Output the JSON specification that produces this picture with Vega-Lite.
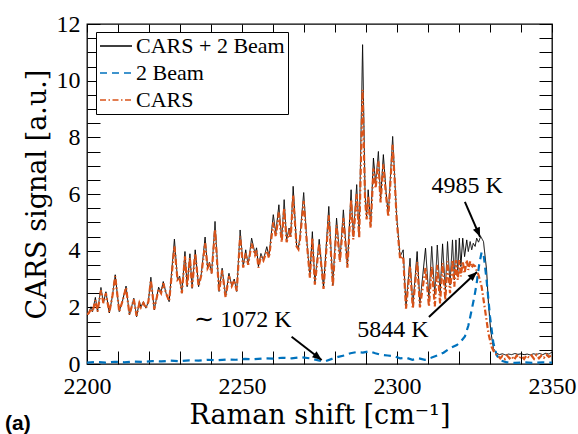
{
  "$schema": "https://vega.github.io/schema/vega-lite/v6.json",
  "width": 465,
  "height": 340,
  "autosize": {"type": "none"},
  "padding": {"left": 87, "top": 24, "right": 26, "bottom": 70},
  "background": "white",
  "title": {
    "text": "(a)",
    "orient": "bottom",
    "anchor": "start",
    "frame": "group",
    "dx": -82,
    "dy": -19,
    "font": "Liberation Sans",
    "fontWeight": "bold",
    "fontSize": 21,
    "color": "black"
  },
  "config": {
    "view": {"stroke": "black", "strokeWidth": 1.3},
    "axis": {
      "grid": false,
      "domain": false,
      "tickColor": "black",
      "tickWidth": 1,
      "labelFont": "Liberation Serif",
      "labelFontSize": 24,
      "labelColor": "black",
      "labelFlush": false,
      "labelOverlap": false,
      "titleFont": "DejaVu Serif",
      "titleFontWeight": "normal",
      "titleFontSize": 27,
      "titleColor": "black"
    },
    "legend": {
      "orient": "none",
      "legendX": 9,
      "legendY": 8,
      "title": null,
      "symbolType": "stroke",
      "symbolSize": 1024,
      "symbolStrokeWidth": 1.6,
      "labelFont": "Liberation Serif",
      "labelFontSize": 22,
      "labelColor": "black",
      "labelOffset": 3,
      "strokeColor": "black",
      "fillColor": "white",
      "padding": 3,
      "rowPadding": 5,
      "clipHeight": 22
    }
  },
  "datasets": {
    "spectra": [
      {"k":"T","s":2200.0,"v":1.70},{"k":"T","s":2200.6,"v":1.80},{"k":"T","s":2201.3,"v":2.02},{"k":"T","s":2201.8,"v":1.85},
      {"k":"T","s":2202.7,"v":2.35},{"k":"T","s":2203.4,"v":1.85},{"k":"T","s":2204.5,"v":2.70},{"k":"T","s":2205.3,"v":2.15},
      {"k":"T","s":2206.1,"v":2.55},{"k":"T","s":2207.2,"v":1.80},{"k":"T","s":2208.2,"v":2.40},{"k":"T","s":2209.1,"v":3.15},
      {"k":"T","s":2210.4,"v":1.85},{"k":"T","s":2211.4,"v":2.20},{"k":"T","s":2212.6,"v":2.75},{"k":"T","s":2213.7,"v":1.73},
      {"k":"T","s":2215.1,"v":2.32},{"k":"T","s":2216.0,"v":1.67},{"k":"T","s":2216.9,"v":2.20},{"k":"T","s":2217.4,"v":2.00},
      {"k":"T","s":2218.2,"v":2.20},{"k":"T","s":2219.0,"v":1.97},{"k":"T","s":2219.8,"v":2.20},{"k":"T","s":2220.6,"v":3.06},
      {"k":"T","s":2221.7,"v":1.91},{"k":"T","s":2223.1,"v":2.71},{"k":"T","s":2223.9,"v":2.55},{"k":"T","s":2224.6,"v":2.91},
      {"k":"T","s":2225.5,"v":2.50},{"k":"T","s":2226.5,"v":2.20},{"k":"T","s":2228.2,"v":4.41},{"k":"T","s":2229.2,"v":2.97},
      {"k":"T","s":2229.9,"v":3.10},{"k":"T","s":2230.6,"v":2.50},{"k":"T","s":2231.6,"v":3.97},{"k":"T","s":2232.3,"v":2.73},
      {"k":"T","s":2233.2,"v":3.89},{"k":"T","s":2233.9,"v":2.67},{"k":"T","s":2234.9,"v":4.03},{"k":"T","s":2236.0,"v":2.73},
      {"k":"T","s":2236.9,"v":3.20},{"k":"T","s":2238.1,"v":4.48},{"k":"T","s":2238.9,"v":3.38},{"k":"T","s":2239.5,"v":3.60},
      {"k":"T","s":2240.2,"v":3.20},{"k":"T","s":2241.3,"v":5.03},{"k":"T","s":2242.6,"v":2.56},{"k":"T","s":2243.6,"v":3.38},
      {"k":"T","s":2244.7,"v":2.38},{"k":"T","s":2245.8,"v":3.20},{"k":"T","s":2246.7,"v":2.75},{"k":"T","s":2247.5,"v":3.00},
      {"k":"T","s":2248.3,"v":2.56},{"k":"T","s":2249.4,"v":4.73},{"k":"T","s":2250.4,"v":3.44},{"k":"T","s":2251.2,"v":4.03},
      {"k":"T","s":2252.0,"v":3.50},{"k":"T","s":2253.1,"v":4.44},{"k":"T","s":2254.2,"v":3.90},{"k":"T","s":2254.7,"v":4.10},
      {"k":"T","s":2255.3,"v":3.44},{"k":"T","s":2256.1,"v":3.90},{"k":"T","s":2256.9,"v":3.67},{"k":"T","s":2258.0,"v":4.14},
      {"k":"T","s":2258.7,"v":3.80},{"k":"T","s":2260.1,"v":5.27},{"k":"T","s":2260.9,"v":4.62},{"k":"T","s":2261.9,"v":5.62},
      {"k":"T","s":2262.8,"v":4.38},{"k":"T","s":2263.6,"v":5.80},{"k":"T","s":2264.4,"v":4.38},{"k":"T","s":2265.2,"v":4.80},
      {"k":"T","s":2265.7,"v":4.50},{"k":"T","s":2266.5,"v":6.27},{"k":"T","s":2267.6,"v":4.20},{"k":"T","s":2268.2,"v":4.10},
      {"k":"T","s":2268.7,"v":4.50},{"k":"T","s":2269.9,"v":6.05},{"k":"T","s":2270.9,"v":4.38},{"k":"T","s":2271.9,"v":3.08},
      {"k":"T","s":2272.7,"v":4.67},{"k":"T","s":2273.5,"v":2.85},{"k":"T","s":2274.9,"v":4.40},{"k":"T","s":2276.3,"v":2.70},
      {"k":"T","s":2278.0,"v":5.56},{"k":"T","s":2279.3,"v":2.79},{"k":"T","s":2280.5,"v":5.15},{"k":"T","s":2281.6,"v":3.67},
      {"k":"T","s":2282.7,"v":5.44},{"k":"T","s":2284.0,"v":3.44},{"k":"T","s":2285.2,"v":6.15},{"k":"T","s":2285.9,"v":4.50},
      {"k":"T","s":2287.0,"v":6.33},{"k":"T","s":2287.8,"v":4.50},{"k":"T","s":2288.9,"v":11.27},{"k":"T","s":2289.7,"v":6.00},
      {"k":"T","s":2290.2,"v":5.20},{"k":"T","s":2290.7,"v":6.15},{"k":"T","s":2291.5,"v":4.91},{"k":"T","s":2292.4,"v":7.27},
      {"k":"T","s":2293.1,"v":6.38},{"k":"T","s":2294.0,"v":7.50},{"k":"T","s":2294.7,"v":5.80},{"k":"T","s":2295.6,"v":7.39},
      {"k":"T","s":2296.5,"v":6.03},{"k":"T","s":2297.2,"v":5.27},{"k":"T","s":2298.6,"v":8.03},{"k":"T","s":2299.3,"v":6.50},
      {"k":"T","s":2299.9,"v":5.20},{"k":"T","s":2301.0,"v":3.79},{"k":"T","s":2302.0,"v":4.03},{"k":"T","s":2302.9,"v":2.03},
      {"k":"T","s":2304.2,"v":3.73},{"k":"T","s":2305.1,"v":2.03},{"k":"T","s":2306.5,"v":3.97},{"k":"T","s":2307.4,"v":2.14},
      {"k":"T","s":2309.2,"v":4.09},{"k":"T","s":2310.3,"v":2.32},{"k":"T","s":2311.2,"v":4.15},{"k":"T","s":2312.2,"v":2.44},
      {"k":"T","s":2313.0,"v":4.20},{"k":"T","s":2313.9,"v":2.50},{"k":"T","s":2314.7,"v":4.24},{"k":"T","s":2315.6,"v":2.61},
      {"k":"T","s":2316.3,"v":4.32},{"k":"T","s":2317.1,"v":2.79},{"k":"T","s":2317.9,"v":4.38},{"k":"T","s":2318.5,"v":2.97},
      {"k":"T","s":2319.0,"v":4.38},{"k":"T","s":2319.6,"v":3.20},{"k":"T","s":2320.1,"v":4.44},{"k":"T","s":2320.6,"v":3.44},
      {"k":"T","s":2321.2,"v":4.44},{"k":"T","s":2321.8,"v":3.79},{"k":"T","s":2322.5,"v":4.38},{"k":"T","s":2323.0,"v":3.97},
      {"k":"T","s":2323.6,"v":4.32},{"k":"T","s":2324.1,"v":4.03},{"k":"T","s":2324.6,"v":4.26},{"k":"T","s":2325.2,"v":4.15},
      {"k":"T","s":2325.7,"v":4.44},{"k":"T","s":2326.3,"v":4.30},{"k":"T","s":2327.0,"v":4.50},{"k":"T","s":2327.9,"v":4.32},
      {"k":"T","s":2328.9,"v":3.32},{"k":"T","s":2329.5,"v":2.14},{"k":"T","s":2330.2,"v":1.20},{"k":"T","s":2331.1,"v":0.55},
      {"k":"T","s":2332.2,"v":0.38},{"k":"T","s":2333.0,"v":0.33},{"k":"T","s":2334.0,"v":0.36},{"k":"T","s":2335.0,"v":0.32},
      {"k":"T","s":2336.0,"v":0.35},{"k":"T","s":2337.0,"v":0.33},{"k":"T","s":2338.0,"v":0.37},{"k":"T","s":2339.0,"v":0.34},
      {"k":"T","s":2340.0,"v":0.36},{"k":"T","s":2341.0,"v":0.33},{"k":"T","s":2342.0,"v":0.35},{"k":"T","s":2343.0,"v":0.32},
      {"k":"T","s":2344.0,"v":0.36},{"k":"T","s":2345.0,"v":0.34},{"k":"T","s":2346.0,"v":0.37},{"k":"T","s":2347.0,"v":0.33},
      {"k":"T","s":2348.0,"v":0.38},{"k":"T","s":2349.0,"v":0.35},{"k":"T","s":2350.0,"v":0.42},

      {"k":"B","s":2200,"v":0.05},{"k":"B","s":2203,"v":0.07},{"k":"B","s":2206,"v":0.05},{"k":"B","s":2209,"v":0.08},
      {"k":"B","s":2212,"v":0.06},{"k":"B","s":2215,"v":0.09},{"k":"B","s":2218,"v":0.07},{"k":"B","s":2221,"v":0.10},
      {"k":"B","s":2224,"v":0.09},{"k":"B","s":2227,"v":0.12},{"k":"B","s":2230,"v":0.10},{"k":"B","s":2233,"v":0.13},
      {"k":"B","s":2236,"v":0.12},{"k":"B","s":2239,"v":0.15},{"k":"B","s":2242,"v":0.13},{"k":"B","s":2245,"v":0.16},
      {"k":"B","s":2248,"v":0.15},{"k":"B","s":2251,"v":0.18},{"k":"B","s":2254,"v":0.17},{"k":"B","s":2257,"v":0.20},
      {"k":"B","s":2260,"v":0.19},{"k":"B","s":2263,"v":0.22},{"k":"B","s":2266,"v":0.20},{"k":"B","s":2269,"v":0.24},
      {"k":"B","s":2272,"v":0.20},{"k":"B","s":2275,"v":0.12},{"k":"B","s":2277,"v":0.10},{"k":"B","s":2279,"v":0.18},
      {"k":"B","s":2281,"v":0.25},{"k":"B","s":2283,"v":0.30},{"k":"B","s":2285,"v":0.38},{"k":"B","s":2287,"v":0.42},
      {"k":"B","s":2289,"v":0.40},{"k":"B","s":2291,"v":0.45},{"k":"B","s":2293,"v":0.38},{"k":"B","s":2295,"v":0.32},
      {"k":"B","s":2297,"v":0.30},{"k":"B","s":2299,"v":0.28},{"k":"B","s":2301,"v":0.20},{"k":"B","s":2303,"v":0.22},
      {"k":"B","s":2305,"v":0.15},{"k":"B","s":2307,"v":0.20},{"k":"B","s":2309,"v":0.15},{"k":"B","s":2311,"v":0.22},
      {"k":"B","s":2313,"v":0.30},{"k":"B","s":2315,"v":0.40},{"k":"B","s":2317,"v":0.55},{"k":"B","s":2319.3,"v":0.67},
      {"k":"B","s":2320.5,"v":0.78},{"k":"B","s":2321.9,"v":0.97},{"k":"B","s":2323.0,"v":1.35},{"k":"B","s":2324.1,"v":1.91},
      {"k":"B","s":2325.0,"v":2.40},{"k":"B","s":2325.7,"v":2.85},{"k":"B","s":2326.5,"v":3.50},{"k":"B","s":2327.3,"v":3.95},
      {"k":"B","s":2327.9,"v":3.90},{"k":"B","s":2328.9,"v":2.97},{"k":"B","s":2330.0,"v":1.67},{"k":"B","s":2331.1,"v":0.73},
      {"k":"B","s":2332.2,"v":0.30},{"k":"B","s":2333.5,"v":0.12},{"k":"B","s":2335.4,"v":0.06},{"k":"B","s":2338,"v":0.04},
      {"k":"B","s":2341,"v":0.06},{"k":"B","s":2344,"v":0.04},{"k":"B","s":2347,"v":0.06},{"k":"B","s":2350,"v":0.05},

      {"k":"C","s":2200.0,"v":1.75},{"k":"C","s":2200.6,"v":1.80},{"k":"C","s":2201.3,"v":1.95},{"k":"C","s":2201.8,"v":1.85},
      {"k":"C","s":2202.7,"v":2.25},{"k":"C","s":2203.4,"v":1.85},{"k":"C","s":2204.5,"v":2.60},{"k":"C","s":2205.3,"v":2.15},
      {"k":"C","s":2206.1,"v":2.50},{"k":"C","s":2207.2,"v":1.82},{"k":"C","s":2208.2,"v":2.40},{"k":"C","s":2209.1,"v":3.10},
      {"k":"C","s":2210.4,"v":1.85},{"k":"C","s":2211.4,"v":2.20},{"k":"C","s":2212.6,"v":2.70},{"k":"C","s":2213.7,"v":1.75},
      {"k":"C","s":2215.1,"v":2.28},{"k":"C","s":2216.0,"v":1.70},{"k":"C","s":2216.9,"v":2.15},{"k":"C","s":2217.4,"v":2.00},
      {"k":"C","s":2218.2,"v":2.15},{"k":"C","s":2219.0,"v":1.97},{"k":"C","s":2219.8,"v":2.20},{"k":"C","s":2220.6,"v":2.95},
      {"k":"C","s":2221.7,"v":1.93},{"k":"C","s":2223.1,"v":2.65},{"k":"C","s":2223.9,"v":2.50},{"k":"C","s":2224.6,"v":2.85},
      {"k":"C","s":2225.5,"v":2.50},{"k":"C","s":2226.5,"v":2.22},{"k":"C","s":2228.2,"v":4.15},{"k":"C","s":2229.2,"v":2.97},
      {"k":"C","s":2229.9,"v":3.05},{"k":"C","s":2230.6,"v":2.50},{"k":"C","s":2231.6,"v":3.80},{"k":"C","s":2232.3,"v":2.75},
      {"k":"C","s":2233.2,"v":3.75},{"k":"C","s":2233.9,"v":2.70},{"k":"C","s":2234.9,"v":3.90},{"k":"C","s":2236.0,"v":2.75},
      {"k":"C","s":2236.9,"v":3.15},{"k":"C","s":2238.1,"v":4.27},{"k":"C","s":2238.9,"v":3.38},{"k":"C","s":2239.5,"v":3.50},
      {"k":"C","s":2240.2,"v":3.20},{"k":"C","s":2241.3,"v":4.75},{"k":"C","s":2242.6,"v":2.55},{"k":"C","s":2243.6,"v":3.30},
      {"k":"C","s":2244.7,"v":2.35},{"k":"C","s":2245.8,"v":3.10},{"k":"C","s":2246.7,"v":2.75},{"k":"C","s":2247.5,"v":2.95},
      {"k":"C","s":2248.3,"v":2.58},{"k":"C","s":2249.4,"v":4.50},{"k":"C","s":2250.4,"v":3.40},{"k":"C","s":2251.2,"v":3.90},
      {"k":"C","s":2252.0,"v":3.50},{"k":"C","s":2253.1,"v":4.25},{"k":"C","s":2254.2,"v":3.85},{"k":"C","s":2254.7,"v":4.00},
      {"k":"C","s":2255.3,"v":3.40},{"k":"C","s":2256.1,"v":3.80},{"k":"C","s":2256.9,"v":3.65},{"k":"C","s":2258.0,"v":4.00},
      {"k":"C","s":2258.7,"v":3.75},{"k":"C","s":2260.1,"v":5.00},{"k":"C","s":2260.9,"v":4.50},{"k":"C","s":2261.9,"v":5.35},
      {"k":"C","s":2262.8,"v":4.30},{"k":"C","s":2263.6,"v":5.50},{"k":"C","s":2264.4,"v":4.30},{"k":"C","s":2265.2,"v":4.65},
      {"k":"C","s":2265.7,"v":4.45},{"k":"C","s":2266.5,"v":5.95},{"k":"C","s":2267.6,"v":4.15},{"k":"C","s":2268.2,"v":4.05},
      {"k":"C","s":2268.7,"v":4.40},{"k":"C","s":2269.9,"v":5.75},{"k":"C","s":2270.9,"v":4.30},{"k":"C","s":2271.9,"v":3.05},
      {"k":"C","s":2272.7,"v":4.45},{"k":"C","s":2273.5,"v":2.80},{"k":"C","s":2274.9,"v":4.25},{"k":"C","s":2276.3,"v":2.65},
      {"k":"C","s":2278.0,"v":5.25},{"k":"C","s":2279.3,"v":2.75},{"k":"C","s":2280.5,"v":4.90},{"k":"C","s":2281.6,"v":3.60},
      {"k":"C","s":2282.7,"v":5.15},{"k":"C","s":2284.0,"v":3.40},{"k":"C","s":2285.2,"v":5.80},{"k":"C","s":2285.9,"v":4.40},
      {"k":"C","s":2287.0,"v":6.00},{"k":"C","s":2287.8,"v":4.45},{"k":"C","s":2288.9,"v":9.68},{"k":"C","s":2289.7,"v":5.80},
      {"k":"C","s":2290.2,"v":5.10},{"k":"C","s":2290.7,"v":5.90},{"k":"C","s":2291.5,"v":4.80},{"k":"C","s":2292.4,"v":6.90},
      {"k":"C","s":2293.1,"v":6.20},{"k":"C","s":2294.0,"v":7.15},{"k":"C","s":2294.7,"v":5.70},{"k":"C","s":2295.6,"v":7.05},
      {"k":"C","s":2296.5,"v":5.90},{"k":"C","s":2297.2,"v":5.20},{"k":"C","s":2298.6,"v":7.74},{"k":"C","s":2299.3,"v":6.40},
      {"k":"C","s":2299.9,"v":5.10},{"k":"C","s":2301.0,"v":3.70},{"k":"C","s":2302.0,"v":3.80},{"k":"C","s":2302.9,"v":1.95},
      {"k":"C","s":2304.2,"v":3.45},{"k":"C","s":2305.1,"v":1.95},{"k":"C","s":2306.5,"v":3.60},{"k":"C","s":2307.4,"v":2.00},
      {"k":"C","s":2309.2,"v":3.40},{"k":"C","s":2310.3,"v":2.03},{"k":"C","s":2311.2,"v":3.44},{"k":"C","s":2312.2,"v":2.03},
      {"k":"C","s":2313.0,"v":3.50},{"k":"C","s":2313.9,"v":2.14},{"k":"C","s":2314.7,"v":3.56},{"k":"C","s":2315.6,"v":2.26},
      {"k":"C","s":2316.3,"v":3.62},{"k":"C","s":2317.1,"v":2.50},{"k":"C","s":2317.9,"v":3.67},{"k":"C","s":2318.5,"v":2.73},
      {"k":"C","s":2319.0,"v":3.67},{"k":"C","s":2319.6,"v":2.97},{"k":"C","s":2320.1,"v":3.67},{"k":"C","s":2320.6,"v":3.09},
      {"k":"C","s":2321.2,"v":3.62},{"k":"C","s":2321.8,"v":3.20},{"k":"C","s":2322.5,"v":3.67},{"k":"C","s":2323.0,"v":3.32},
      {"k":"C","s":2323.6,"v":3.62},{"k":"C","s":2324.1,"v":3.40},{"k":"C","s":2324.6,"v":3.50},{"k":"C","s":2325.2,"v":3.45},
      {"k":"C","s":2325.7,"v":3.30},{"k":"C","s":2326.3,"v":3.14},{"k":"C","s":2327.3,"v":2.73},{"k":"C","s":2328.4,"v":1.91},
      {"k":"C","s":2329.5,"v":1.08},{"k":"C","s":2330.5,"v":0.61},{"k":"C","s":2331.5,"v":0.38},{"k":"C","s":2332.5,"v":0.30},
      {"k":"C","s":2333.3,"v":0.20},{"k":"C","s":2334.0,"v":0.28},{"k":"C","s":2334.8,"v":0.18},{"k":"C","s":2335.5,"v":0.30},
      {"k":"C","s":2336.3,"v":0.20},{"k":"C","s":2337.0,"v":0.27},{"k":"C","s":2337.8,"v":0.15},{"k":"C","s":2338.6,"v":0.30},
      {"k":"C","s":2339.4,"v":0.20},{"k":"C","s":2340.2,"v":0.28},{"k":"C","s":2341.0,"v":0.18},{"k":"C","s":2341.8,"v":0.30},
      {"k":"C","s":2342.6,"v":0.22},{"k":"C","s":2343.4,"v":0.30},{"k":"C","s":2344.2,"v":0.18},{"k":"C","s":2345.0,"v":0.32},
      {"k":"C","s":2345.8,"v":0.20},{"k":"C","s":2346.6,"v":0.30},{"k":"C","s":2347.4,"v":0.22},{"k":"C","s":2348.2,"v":0.33},
      {"k":"C","s":2349.0,"v":0.25},{"k":"C","s":2350.0,"v":0.32}
    ],
    "arrows": [
      {"s":2321.9,"v":5.72,"s2":2326.8,"v2":4.49,"a":156.8},
      {"s":2310.3,"v":1.66,"s2":2325.8,"v2":3.25,"a":46.8},
      {"s":2266.0,"v":0.96,"s2":2275.7,"v2":0.14,"a":127.8}
    ],
    "notes": [
      {"s":2322.6,"v":6.04,"t":"4985 K"},
      {"s":2298.7,"v":0.95,"t":"5844 K"},
      {"s":2250.3,"v":1.32,"t":"∼ 1072 K"}
    ]
  },
  "resolve": {"axis": {"x": "independent", "y": "independent"}},
  "layer": [
    {
      "data": {"name": "spectra"},
      "mark": {"type": "line", "clip": true, "strokeCap": "butt"},
      "encoding": {
        "x": {
          "field": "s", "type": "quantitative",
          "scale": {"domain": [2200, 2350], "nice": false, "zero": false},
          "axis": {
            "orient": "bottom",
            "ticks": false,
            "values": [2200, 2250, 2300, 2350],
            "format": "d",
            "labelPadding": 10,
            "title": "Raman shift [cm⁻¹]",
            "titlePadding": 4
          }
        },
        "y": {
          "field": "v", "type": "quantitative",
          "scale": {"domain": [0, 12], "nice": false},
          "axis": {
            "orient": "left",
            "ticks": false,
            "values": [0, 2, 4, 6, 8, 10, 12],
            "format": "d",
            "labelPadding": 7,
            "title": "CARS signal [a.u.]",
            "titlePadding": 5
          }
        },
        "color": {
          "field": "k", "type": "nominal",
          "scale": {"domain": ["T", "B", "C"], "range": ["#000000", "#0072BD", "#D95319"]},
          "legend": {"labelExpr": "datum.label === 'T' ? 'CARS + 2 Beam' : datum.label === 'B' ? '2 Beam' : 'CARS'"}
        },
        "strokeDash": {
          "field": "k", "type": "nominal",
          "scale": {"domain": ["T", "B", "C"], "range": [[1, 0], [7, 5], [6, 2.5, 1.5, 2.5]]},
          "legend": {"labelExpr": "datum.label === 'T' ? 'CARS + 2 Beam' : datum.label === 'B' ? '2 Beam' : 'CARS'"}
        },
        "strokeWidth": {"condition": {"test": "datum.k === 'T'", "value": 1}, "value": 2.2}
      }
    },
    {
      "data": {"name": "spectra"},
      "mark": {"type": "point", "opacity": 0},
      "encoding": {
        "x": {
          "field": "s", "type": "quantitative",
          "axis": {
            "orient": "bottom", "ticks": true, "labels": false, "title": null, "tickSize": 13, "offset": -13,
            "values": [2200,2210,2220,2230,2240,2250,2260,2270,2280,2290,2300,2310,2320,2330,2340,2350]
          }
        },
        "y": {
          "field": "v", "type": "quantitative",
          "axis": {
            "orient": "left", "ticks": true, "labels": false, "title": null, "tickSize": 13, "offset": -13,
            "values": [0,0.5,1,1.5,2,2.5,3,3.5,4,4.5,5,5.5,6,6.5,7,7.5,8,8.5,9,9.5,10,10.5,11,11.5,12]
          }
        }
      }
    },
    {
      "data": {"name": "spectra"},
      "mark": {"type": "point", "opacity": 0},
      "encoding": {
        "x": {
          "field": "s", "type": "quantitative",
          "axis": {
            "orient": "top", "ticks": true, "labels": false, "title": null, "tickSize": 8, "offset": -8,
            "values": [2200,2210,2220,2230,2240,2250,2260,2270,2280,2290,2300,2310,2320,2330,2340,2350]
          }
        },
        "y": {
          "field": "v", "type": "quantitative",
          "axis": {
            "orient": "right", "ticks": true, "labels": false, "title": null, "tickSize": 13, "offset": -13,
            "values": [0,0.5,1,1.5,2,2.5,3,3.5,4,4.5,5,5.5,6,6.5,7,7.5,8,8.5,9,9.5,10,10.5,11,11.5,12]
          }
        }
      }
    },
    {
      "data": {"name": "arrows"},
      "mark": {"type": "rule", "color": "black", "strokeWidth": 2},
      "encoding": {
        "x": {"field": "s", "type": "quantitative", "axis": null},
        "y": {"field": "v", "type": "quantitative", "axis": null},
        "x2": {"field": "s2"},
        "y2": {"field": "v2"}
      }
    },
    {
      "data": {"name": "arrows"},
      "mark": {"type": "point", "shape": "M0,0L-0.4,1L0.4,1Z", "filled": true, "color": "black", "opacity": 1, "size": 350},
      "encoding": {
        "x": {"field": "s2", "type": "quantitative", "axis": null},
        "y": {"field": "v2", "type": "quantitative", "axis": null},
        "angle": {"field": "a", "type": "quantitative", "scale": null}
      }
    },
    {
      "data": {"name": "notes"},
      "mark": {"type": "text", "font": "Liberation Serif", "fontSize": 24, "align": "center", "baseline": "alphabetic", "color": "black"},
      "encoding": {
        "x": {"field": "s", "type": "quantitative", "axis": null},
        "y": {"field": "v", "type": "quantitative", "axis": null},
        "text": {"field": "t"}
      }
    }
  ]
}
